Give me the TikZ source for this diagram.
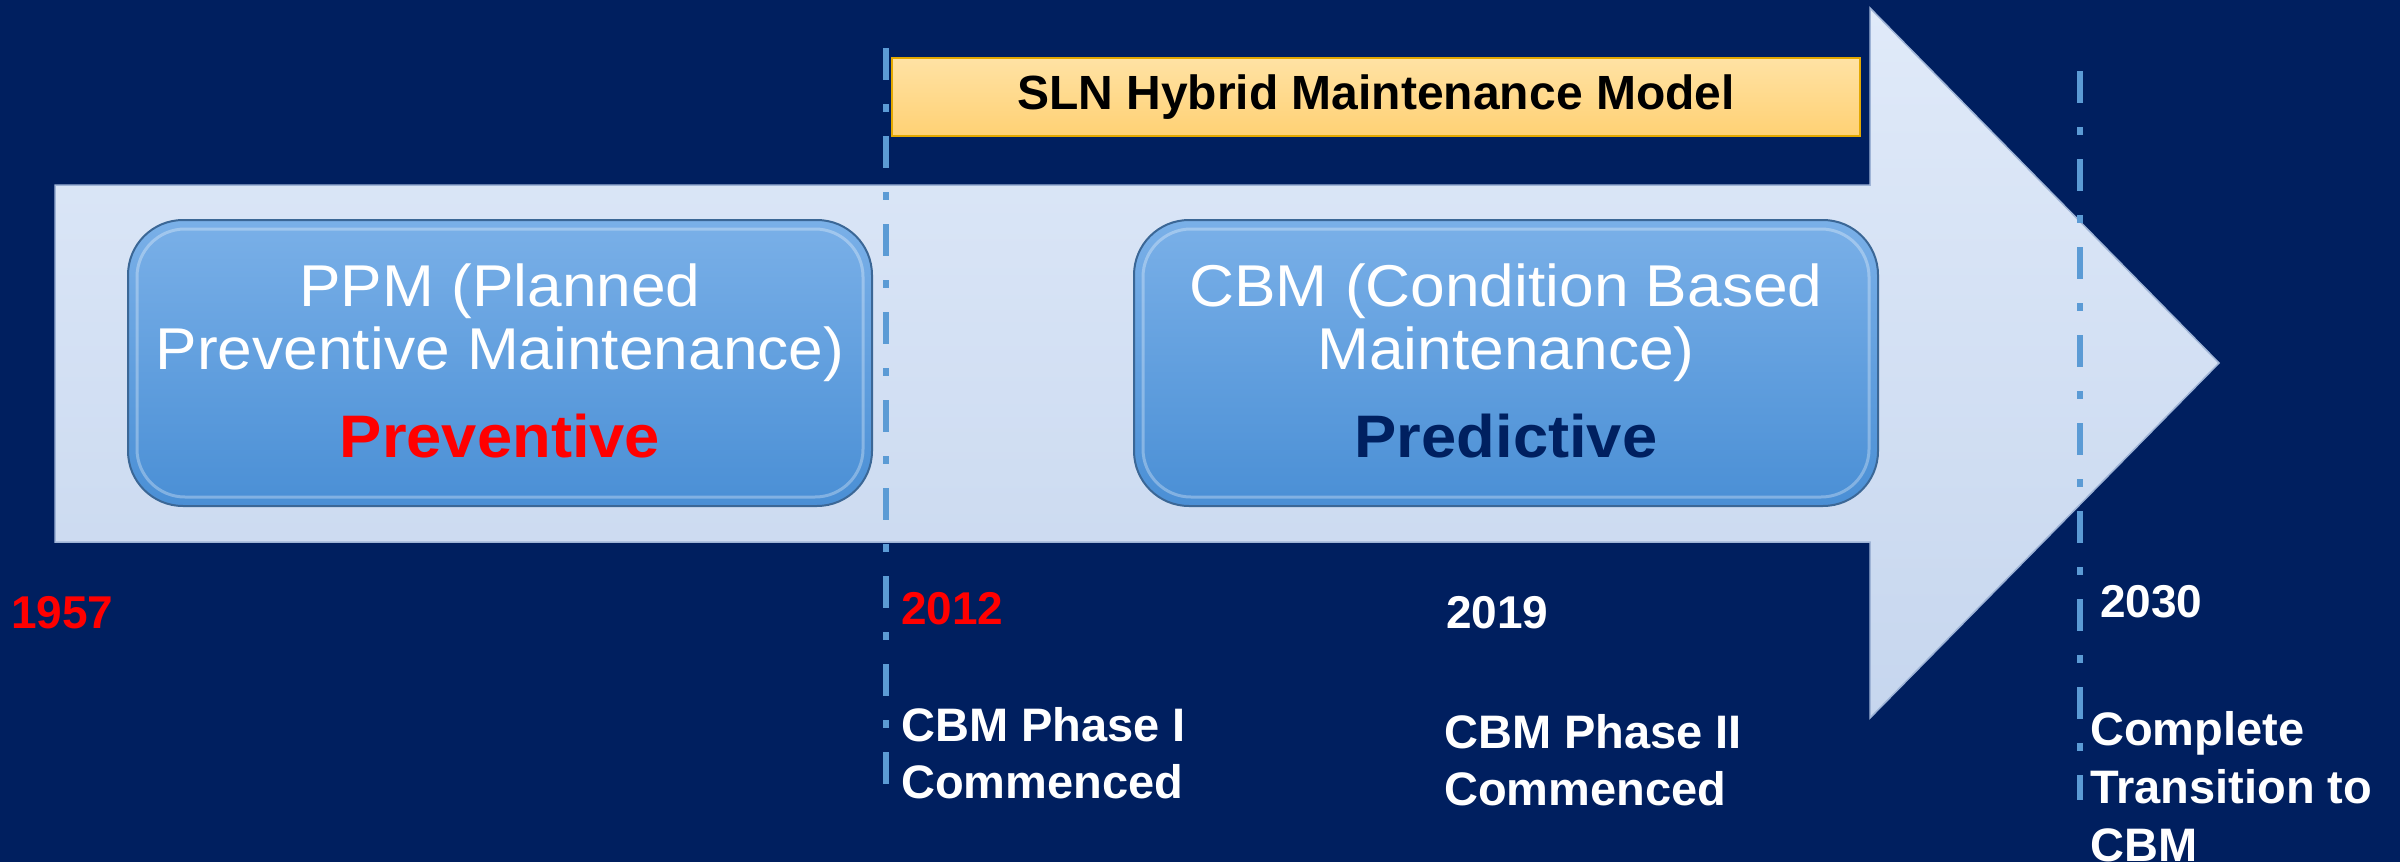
\documentclass[tikz,border=0pt]{standalone}
\usepackage{fontspec}
\setmainfont{Liberation Sans}
\newfontfamily\boxfont[FakeStretch=1.055]{Liberation Sans}
\definecolor{bg}{HTML}{001F5F}
\definecolor{arrowtop}{HTML}{E0EAF9}
\definecolor{arrowbot}{HTML}{C6D6EE}
\definecolor{arrowedge}{HTML}{9FB4D6}
\definecolor{boxtop}{HTML}{7AB0E8}
\definecolor{boxbot}{HTML}{4A8FD5}
\definecolor{boxedge}{HTML}{3B6796}
\definecolor{yeltop}{HTML}{FFE2A4}
\definecolor{yelbot}{HTML}{FFD174}
\definecolor{yeledge}{HTML}{E3A800}
\definecolor{dashblue}{HTML}{5B9BD5}
\definecolor{navytext}{HTML}{002060}
\tikzset{
  mbox/.style={rounded corners=55pt, minimum width=744pt, minimum height=286pt,
    top color=boxtop, bottom color=boxbot, draw=boxedge, line width=2pt, inner sep=0pt},
  slnbox/.style={minimum width=968pt, minimum height=78pt, top color=yeltop,
    bottom color=yelbot, draw=yeledge, line width=2pt, inner sep=0pt,
    font=\fontsize{48}{56}\selectfont\bfseries},
  dashline/.style={dashblue, line width=6pt, dash pattern=on 32pt off 24pt on 8pt off 24pt},
  boxtxt/.style={anchor=base, inner sep=0pt, text=white, font=\boxfont\fontsize{59}{63}\selectfont},
  boxkey/.style={anchor=base, inner sep=0pt, font=\boxfont\fontsize{60}{63}\selectfont\bfseries},
  yeartxt/.style={anchor=base west, inner sep=0pt, font=\fontsize{46}{54}\selectfont\bfseries},
  labtxt/.style={anchor=base west, inner sep=0pt, text=white, font=\fontsize{47}{57}\selectfont\bfseries}
}
\begin{document}
\begin{tikzpicture}[x=1pt,y=-1pt]
\fill[bg] (0,0) rectangle (2400,862);
\useasboundingbox (0,0) rectangle (2400,862);
% big arrow
\shade[top color=arrowtop, bottom color=arrowbot, draw=arrowedge, line width=1.5pt]
  (55,185) -- (1870,185) -- (1870,8) -- (2219,363) -- (1870,718) -- (1870,542) -- (55,542) -- cycle;
% hybrid bar
\node[slnbox] (sln) at (1376,97) {SLN Hybrid Maintenance Model};
% phase boxes
\node[mbox] (ppm) at (500,363) {};
\draw[white, opacity=0.3, line width=3pt, rounded corners=48pt] (137,229) rectangle (863,497);
\node[boxtxt] (ppm1) at (500,306) {PPM (Planned};
\node[boxtxt] (ppm2) at (500,369) {Preventive Maintenance)};
\node[boxkey, text=red] (ppm3) at (500,457) {Preventive};
\node[mbox] (cbm) at (1506,363) {};
\draw[white, opacity=0.3, line width=3pt, rounded corners=48pt] (1143,229) rectangle (1869,497);
\node[boxtxt] (cbm1) at (1506,306) {CBM (Condition Based};
\node[boxtxt] (cbm2) at (1506,369) {Maintenance)};
\node[boxkey, text=navytext] (cbm3) at (1506,457) {Predictive};
% dashed milestones
\coordinate (d1top) at (886,48);
\coordinate (d1bot) at (886,790);
\coordinate (d2top) at (2080,71);
\coordinate (d2bot) at (2080,800);
\draw[dashline] (d1top) -- (d1bot);
\draw[dashline] (d2top) -- (d2bot);
% years
\node[yeartxt, text=red] (y1957) at (11,628) {1957};
\node[yeartxt, text=red] (y2012) at (901,624) {2012};
\node[yeartxt, text=white] (y2019) at (1446,628) {2019};
\node[yeartxt, text=white] (y2030) at (2100,617) {2030};
% milestone labels
\node[labtxt] (p1a) at (901,741) {CBM Phase I};
\node[labtxt] (p1b) at (901,798) {Commenced};
\node[labtxt] (p2a) at (1444,748) {CBM Phase II};
\node[labtxt] (p2b) at (1444,805) {Commenced};
\node[labtxt] (p3a) at (2090,745) {Complete};
\node[labtxt] (p3b) at (2090,803) {Transition to};
\node[labtxt] (p3c) at (2090,861) {CBM};
\end{tikzpicture}
\end{document}
